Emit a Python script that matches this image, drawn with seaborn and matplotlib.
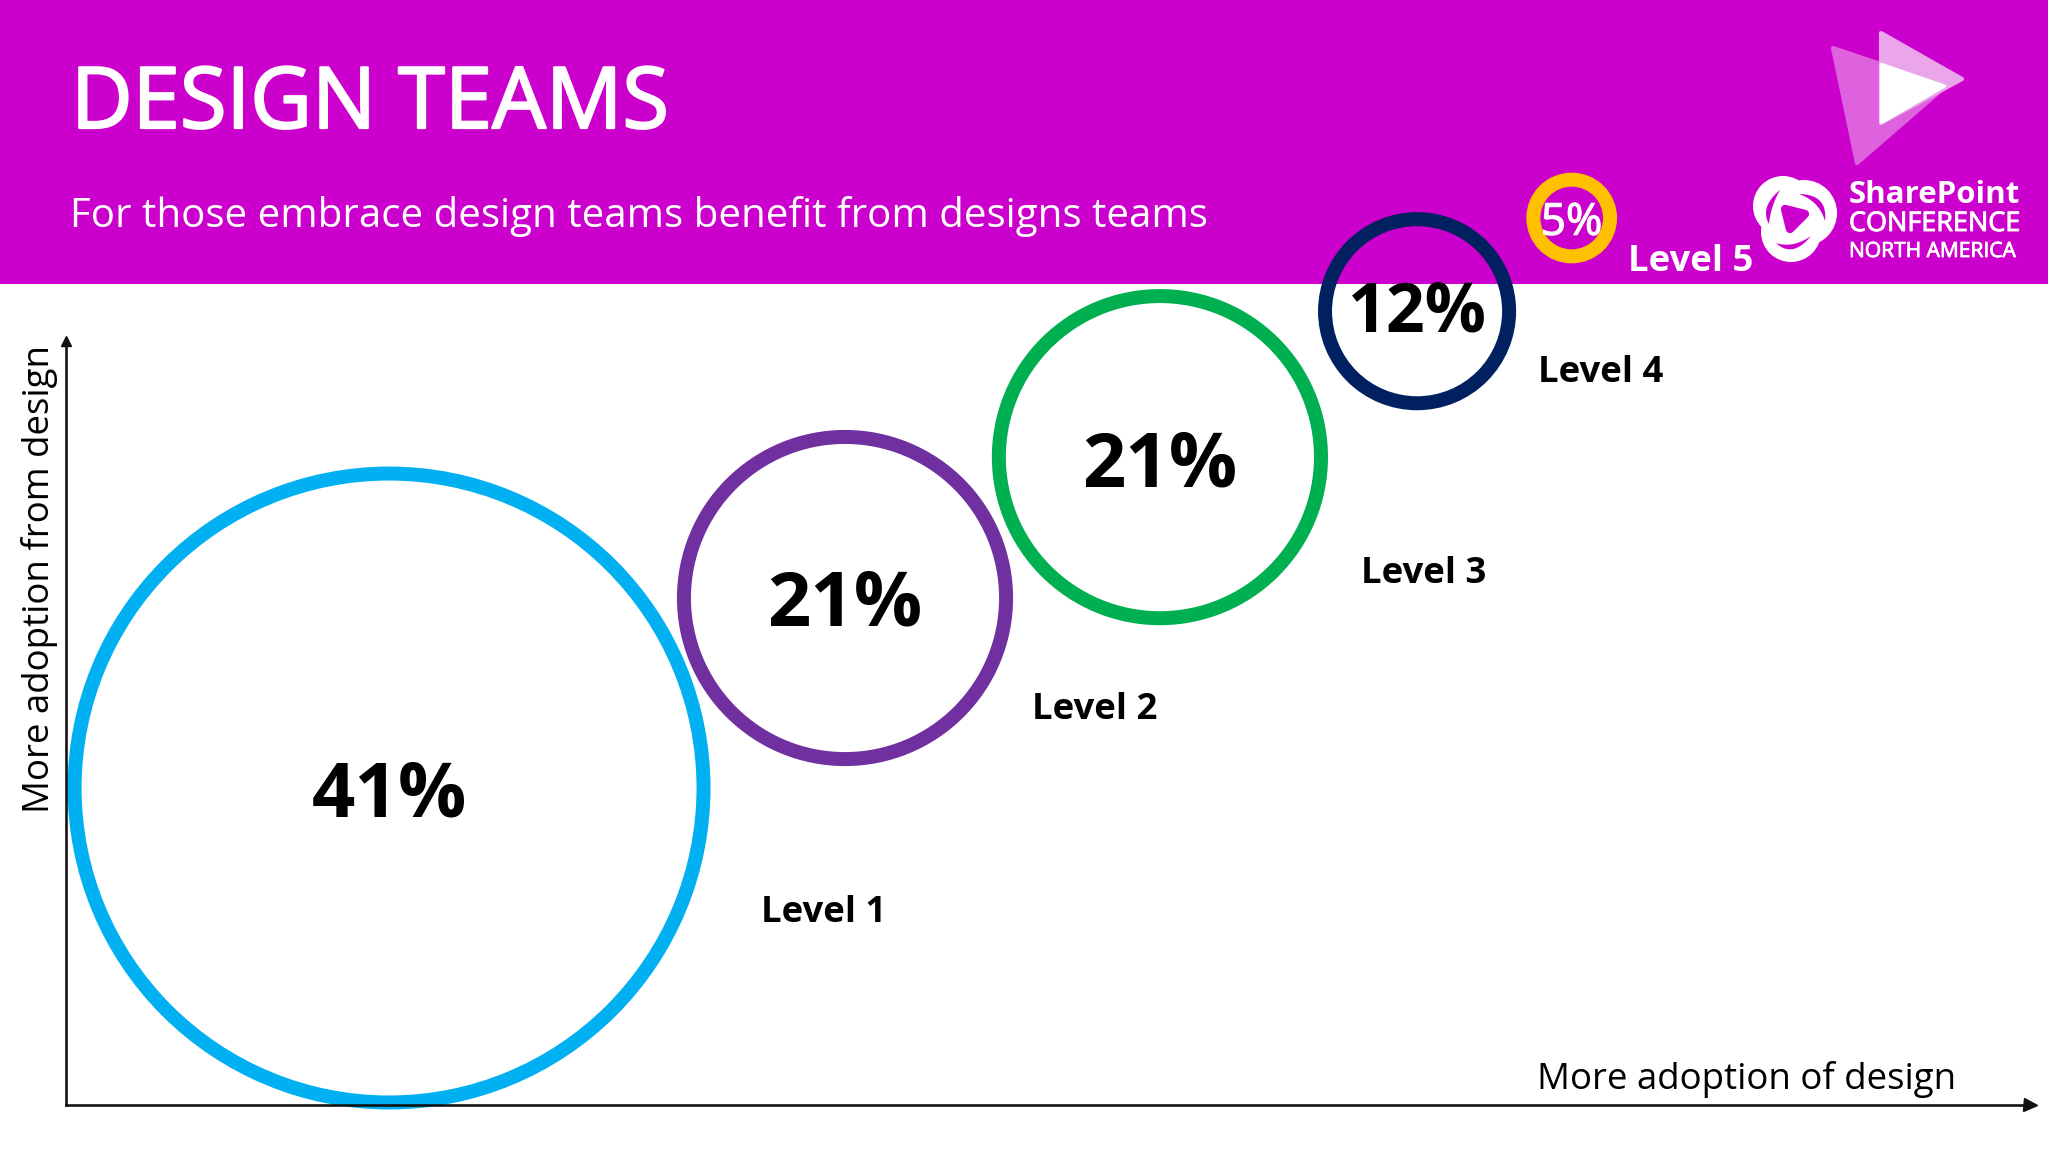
import numpy as np
import pandas as pd
import matplotlib
matplotlib.use("Agg")
import matplotlib.pyplot as plt
import matplotlib.patheffects as pe
from matplotlib.patches import Rectangle, Polygon, Circle
import seaborn as sns

# data
levels = ["Level 1", "Level 2", "Level 3", "Level 4", "Level 5"]
share = [41, 21, 21, 12, 5]
adoption_of = [16.47, 39.68, 55.71, 68.80, 76.67]
adoption_from = [41.49, 66.36, 84.80, 103.90, 116.10]
ring_colors = ["#00B0F0", "#7030A0", "#00B050", "#002060", "#FFC000"]

W, H = 2048, 1152
DPI = 100
PT = 72 / DPI  # 1 px in points
BAND = "#CC00CC"
FONT = "Open Sans"

sns.set_theme(style="white")
plt.rcParams["font.family"] = [FONT, "DejaVu Sans"]

fig = plt.figure(figsize=(W / DPI, H / DPI), dpi=DPI, facecolor="white")

# background layer in pixel coordinates: header band and logo
bg = fig.add_axes([0, 0, 1, 1], zorder=0)
bg.set_xlim(0, W)
bg.set_ylim(H, 0)
bg.axis("off")
bg.add_patch(Rectangle((0, 0), W, 284, color=BAND, lw=0))

bg.add_patch(Polygon([(1833, 48), (1857, 163), (1946, 86)], closed=True, fc="#DE62DE", ec="#DE62DE", lw=3, joinstyle="round"))
bg.add_patch(Polygon([(1881, 33), (1881, 123), (1962, 79)], closed=True, fc="#EBA6EB", ec="#EBA6EB", lw=3, joinstyle="round"))
bg.add_patch(Polygon([(1881, 64), (1881, 123), (1945, 86)], closed=True, fc="white", ec="white", lw=2, joinstyle="round"))


def crescent(p0, mid, p1, thick):
    # thin curved sliver between two quadratic curves
    p0, mid, p1 = np.array(p0), np.array(mid), np.array(p1)
    chord = (p0 + p1) / 2
    ctrl = mid + (mid - chord)
    t = np.linspace(0, 1, 30)[:, None]
    outer = (1 - t) ** 2 * p0 + 2 * t * (1 - t) * ctrl + t ** 2 * p1
    inner_ctrl = ctrl + (chord - mid) / np.linalg.norm(chord - mid) * thick * 2
    inner = (1 - t) ** 2 * p0 + 2 * t * (1 - t) * inner_ctrl + t ** 2 * p1
    return np.vstack([outer, inner[::-1]])


# conference swirl
for c, r in [((1783, 206), 30), ((1804, 213), 33), ((1791, 232), 30)]:
    bg.add_patch(Circle(c, r, fc="white", ec="none"))
bg.add_patch(Polygon(crescent((1780, 190), (1767, 207), (1769, 224), 5.5), closed=True, fc=BAND, ec="none"))
bg.add_patch(Polygon(crescent((1799, 194), (1820, 201), (1825, 221), 5.5), closed=True, fc=BAND, ec="none"))
bg.add_patch(Polygon(crescent((1776, 243), (1793, 249), (1811, 236), 5), closed=True, fc=BAND, ec="none"))
bg.add_patch(Polygon([(1785, 209), (1805, 214), (1790, 229)], closed=True, fc=BAND, ec=BAND, lw=6, joinstyle="round"))


def px_text(x, y, s, size_px, stroke=0, **kw):
    kw.setdefault("color", "white")
    kw.setdefault("va", "baseline")
    t = bg.text(x, y, s, fontsize=size_px * PT, **kw)
    if stroke:
        # no medium weight installed, thicken the regular one
        t.set_path_effects([pe.withStroke(linewidth=stroke * PT, foreground=kw["color"])])
    return t


px_text(71, 128, "DESIGN TEAMS", 85, stroke=2.2)
px_text(70, 227, "For those embrace design teams benefit from designs teams", 40.3)
px_text(1849, 203, "SharePoint", 31.3, weight="bold")
px_text(1849, 231, "CONFERENCE", 27, stroke=0.9)
px_text(1849, 257, "NORTH AMERICA", 21, stroke=0.8)

# chart layer
ax = fig.add_axes([65.5 / W, 1 - 1105 / H, (2030 - 65.5) / W, (1105 - 341) / H], zorder=1)
ax.patch.set_alpha(0)

df = pd.DataFrame({"level": levels, "share": share, "x": adoption_of, "y": adoption_from})
# ring diameter is proportional to the share
ring_px = 2 * 7.67
ring_lw = 14 * PT
sizes = {v: (v * ring_px * PT) ** 2 for v in sorted(set(share))}
sns.scatterplot(data=df, x="x", y="y", hue="level", palette=ring_colors, size="share", sizes=sizes,
                legend=False, linewidth=ring_lw, clip_on=False, ax=ax)
rings = ax.collections[0]
rings.set_facecolors("none")
rings.set_edgecolors(ring_colors)
rings.set_linewidths(ring_lw)

ax.set_xlim(0, 100)
ax.set_ylim(0, 100)
ax.set_xticks([])
ax.set_yticks([])
ax.set_xlabel("")
ax.set_ylabel("")
sns.despine(ax=ax)
for side in ["left", "bottom"]:
    ax.spines[side].set_color("#111111")
    ax.spines[side].set_linewidth(2.6 * PT)
ax.plot(1, 0, ">", color="#111111", ms=13 * PT, transform=ax.transAxes, clip_on=False)
ax.plot(0, 1, "^", color="#111111", ms=10 * PT, transform=ax.transAxes, clip_on=False)

# percent labels sit near the ring centres
label_px = [76, 76, 76, 68, 44]
label_dy = [0, -1, 1, -6, 0]
for i, v in enumerate(share):
    small = v == 5
    lab = ax.annotate(f"{v}%", (adoption_of[i], adoption_from[i]), xytext=(0, -label_dy[i] * PT), textcoords="offset points",
                      color="white" if small else "black", fontsize=label_px[i] * PT, weight="normal" if small else "bold",
                      ha="center", va="center_baseline", annotation_clip=False)
    if small:
        lab.set_path_effects([pe.withStroke(linewidth=1.2 * PT, foreground="white")])

level_pos = [(761, 922), (1032, 719), (1361, 583), (1538, 382), (1628, 271)]
for name, (lx, ly) in zip(levels, level_pos):
    px_text(lx, ly, name, 36.5, color="white" if name == "Level 5" else "black", weight="bold", zorder=5)

px_text(1537, 1089, "More adoption of design", 36.6, color="black")
px_text(40, 579, "More adoption from design", 36.6, color="black", rotation=90, va="center", ha="center")

fig.savefig("out.png", dpi=DPI)
